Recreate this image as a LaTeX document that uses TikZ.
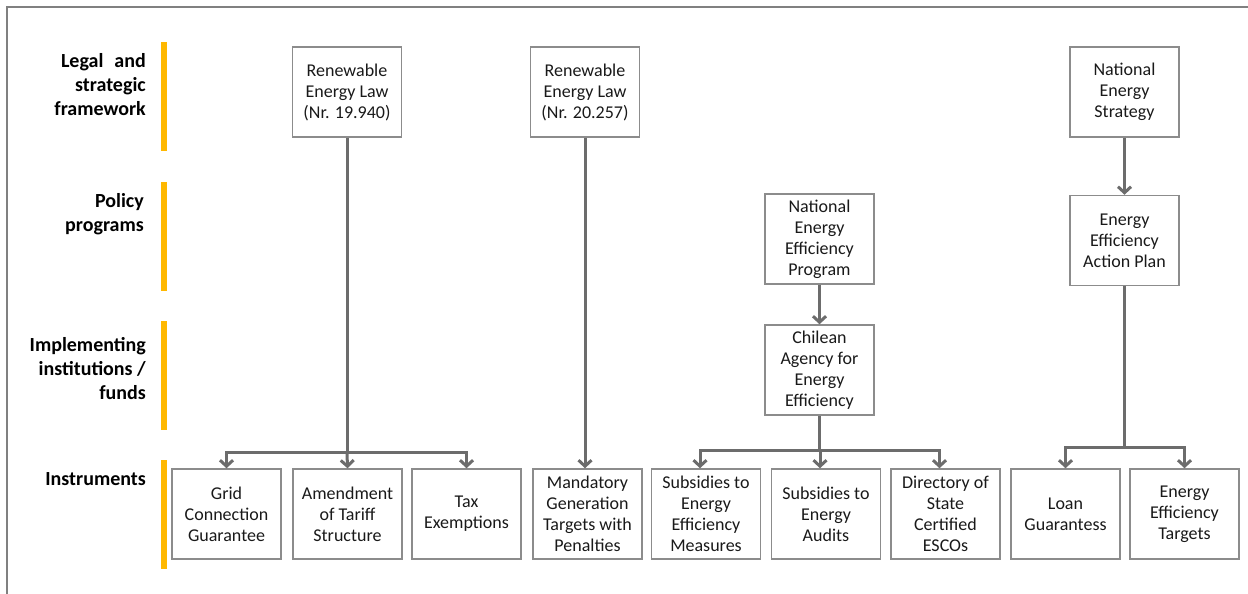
\documentclass[tikz,border=0pt]{standalone}
\usepackage{fontspec}
\setmainfont{Carlito}
\usetikzlibrary{arrows.meta}
\definecolor{barorange}{RGB}{255,184,0}
\definecolor{linegray}{RGB}{108,108,108}
\definecolor{boxgray}{RGB}{140,140,140}
\definecolor{framegray}{RGB}{128,128,128}
\tikzset{
  box/.style={draw=boxgray, line width=1.5pt, minimum width=109pt, minimum height=90pt,
    align=center, inner sep=2pt, text=black!90, font=\fontsize{18}{21}\selectfont},
  conn/.style={draw=linegray, line width=3pt},
  tip/.style={conn, -{Straight Barb[length=6pt,width=13pt]}},
  band/.style={fill=barorange},
  lvl/.style={anchor=north east, align=right, inner sep=0pt, text=black,
    font=\bfseries\fontsize{20}{24}\selectfont}
}
\begin{document}
\begin{tikzpicture}[x=1pt,y=-1pt]
\useasboundingbox (0,0) rectangle (1248,594);

% outer frame (open to the right and bottom)
\draw[framegray, line width=2pt] (6.5,594) -- (6.5,7.3) -- (1248,7.3);

% level bands
\fill[band] (161,42)  rectangle (167,151);
\fill[band] (161,182) rectangle (167,291);
\fill[band] (161,321) rectangle (167,430);
\fill[band] (161,460) rectangle (167,569);

% level labels
\node[lvl] (lv1) at (146,53.5) {Legal\hspace{0.55em}and\\strategic\\framework};
\node[lvl] (lv2) at (144,193) {Policy\\programs};
\node[lvl] (lv3) at (146,337) {Implementing\\institutions /\\funds};
\node[lvl] (lv4) at (146,472) {Instruments};

% legal and strategic framework
\node[box] (rel1) at (347,92)    {Renewable\\Energy Law\\(Nr. 19.940)};
\node[box] (rel2) at (585,92)    {Renewable\\Energy Law\\(Nr. 20.257)};
\node[box] (nes)  at (1124.5,92) {National\\Energy\\Strategy};

% policy programs
\node[box] (neep) at (819.5,239)   {National\\Energy\\Efficiency\\Program};
\node[box] (eeap) at (1124.5,240.5) {Energy\\Efficiency\\Action Plan};

% implementing institutions
\node[box] (acee) at (819.5,370) {Chilean\\Agency for\\Energy\\Efficiency};

% instruments
\node[box] (i1) at (226.5,514) {Grid\\Connection\\Guarantee};
\node[box] (i2) at (347.5,514) {Amendment\\of Tariff\\Structure};
\node[box] (i3) at (466.5,514) {Tax\\Exemptions};
\node[box] (i4) at (587.5,514) {Mandatory\\Generation\\Targets with\\Penalties};
\node[box] (i5) at (706,514)   {Subsidies to\\Energy\\Efficiency\\Measures};
\node[box] (i6) at (826,514)   {Subsidies to\\Energy\\Audits};
\node[box] (i7) at (945.5,514) {Directory of\\State\\Certified\\ESCOs};
\node[box] (i8) at (1065.5,514) {Loan\\Guarantess};
\node[box] (i9) at (1184.5,514) {Energy\\Efficiency\\Targets};

% branch points
\coordinate (busA) at (347,452);
\coordinate (busB) at (819.5,450);
\coordinate (busC) at (1124.5,447);

% Renewable Energy Law 19.940
\draw[conn] (rel1.south) -- (busA);
\draw[tip] (busA) -| (i1.north);
\draw[tip] (busA) -- (i2.north);
\draw[tip] (busA) -| (i3.north);

% Renewable Energy Law 20.257
\draw[tip] (rel2.south) -- (rel2.south |- i4.north);

% energy efficiency programme chain
\draw[tip] (neep.south) -- (acee.north);
\draw[conn] (acee.south) -- (busB);
\draw[tip] (busB) -| ([xshift=-6pt]i5.north);
\draw[tip] (busB) -| ([xshift=-6pt]i6.north);
\draw[tip] (busB) -| ([xshift=-6pt]i7.north);

% national energy strategy chain
\draw[tip] (nes.south) -- (eeap.north);
\draw[conn] (eeap.south) -- (busC);
\draw[tip] (busC) -| (i8.north);
\draw[tip] (busC) -| (i9.north);
\end{tikzpicture}
\end{document}
